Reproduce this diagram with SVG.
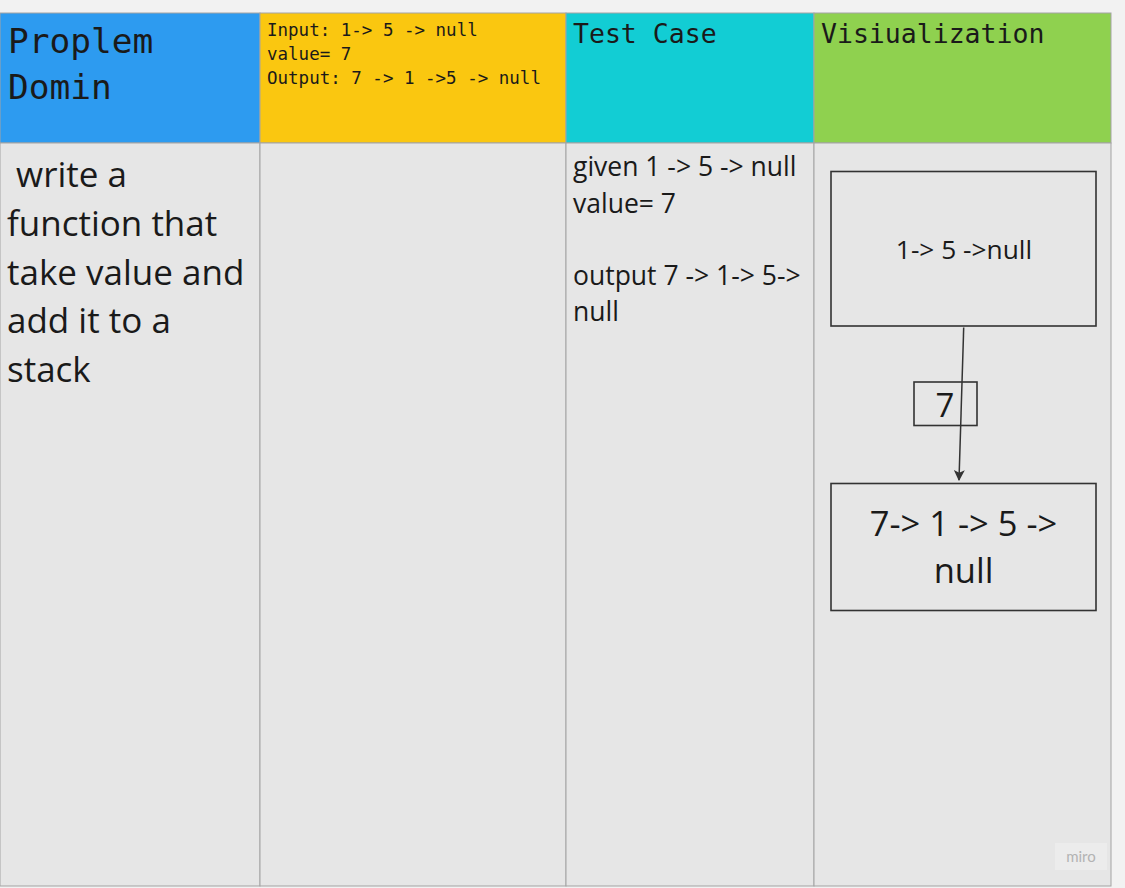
<svg xmlns="http://www.w3.org/2000/svg" width="1125" height="888" viewBox="0 0 1125 888">
  <defs>
    <style>
      .cell { stroke: #a3a3a3; stroke-width: 1; }
      .mono { font-family: "DejaVu Sans Mono", "Liberation Mono", monospace; fill: #1a1a1a; }
      .body { font-family: "Open Sans", "Noto Sans", sans-serif; fill: #1a1a1a; }
      .box { fill: none; stroke: #333333; stroke-width: 1.6; }
      .edge { fill: none; stroke: #333333; stroke-width: 1.5; }
    </style>
    <marker id="arrow" viewBox="0 0 10 10" refX="9" refY="5" markerWidth="11" markerHeight="11" orient="auto" markerUnits="userSpaceOnUse">
      <path d="M0,0 L10,5 L0,10 L2.5,5 Z" fill="#333333"/>
    </marker>
  </defs>

  <rect width="1125" height="888" fill="#f2f2f2"/>

  <!-- table: header row -->
  <g id="header">
    <rect class="cell" x="0" y="13" width="260" height="130" fill="#2d9bf0"/>
    <rect class="cell" x="260" y="13" width="306" height="130" fill="#fac710"/>
    <rect class="cell" x="566" y="13" width="248" height="130" fill="#12cdd4"/>
    <rect class="cell" x="814" y="13" width="297" height="130" fill="#8fd14f"/>
  </g>

  <!-- table: body row -->
  <g id="body">
    <rect class="cell" x="0" y="143" width="260" height="743" fill="#e6e6e6"/>
    <rect class="cell" x="260" y="143" width="306" height="743" fill="#e6e6e6"/>
    <rect class="cell" x="566" y="143" width="248" height="743" fill="#e6e6e6"/>
    <rect class="cell" x="814" y="143" width="297" height="743" fill="#e6e6e6"/>
  </g>

  <g id="problem-domain">
    <text class="mono" font-size="34.5" x="8" y="53">Proplem</text>
    <text class="mono" font-size="34.5" x="8" y="99">Domin</text>
  </g>

  <g id="algorithm">
    <text class="mono" font-size="17.5" x="267" y="36">Input: 1-&gt; 5 -&gt; null</text>
    <text class="mono" font-size="17.5" x="267" y="60">value= 7</text>
    <text class="mono" font-size="17.5" x="267" y="84">Output: 7 -&gt; 1 -&gt;5 -&gt; null</text>
  </g>

  <g id="test-case-title">
    <text class="mono" font-size="26.5" x="573" y="43">Test Case</text>
  </g>

  <g id="visualization-title">
    <text class="mono" font-size="26.5" x="821" y="43">Visiualization</text>
  </g>

  <g id="problem-text">
    <text class="body" font-size="35" x="7" y="187" xml:space="preserve"> write a</text>
    <text class="body" font-size="35" x="7" y="236">function that</text>
    <text class="body" font-size="35" x="7" y="285">take value and</text>
    <text class="body" font-size="35" x="7" y="333">add it to a</text>
    <text class="body" font-size="35" x="7" y="382">stack</text>
  </g>

  <g id="test-case-text">
    <text class="body" font-size="26.5" x="573" y="176">given 1 -&gt; 5 -&gt; null</text>
    <text class="body" font-size="26.5" x="573" y="213">value= 7</text>
    <text class="body" font-size="26.5" x="573" y="285">output 7 -&gt; 1-&gt; 5-&gt;</text>
    <text class="body" font-size="26.5" x="573" y="321">null</text>
  </g>

  <!-- linked list before insertion -->
  <g id="list-before">
    <rect class="box" x="831" y="171.5" width="265" height="154.5"/>
    <text class="body" font-size="26.3" x="964" y="259" text-anchor="middle">1-&gt; 5 -&gt;null</text>
  </g>

  <!-- value being pushed -->
  <g id="value-node">
    <rect class="box" x="914" y="382" width="63" height="43.5" stroke-width="1.3"/>
    <text class="body" font-size="33" x="945" y="417" text-anchor="middle">7</text>
  </g>

  <!-- linked list after insertion -->
  <g id="list-after">
    <rect class="box" x="831" y="483.5" width="265" height="127"/>
    <text class="body" font-size="34.5" x="963.5" y="536" text-anchor="middle">7-&gt; 1 -&gt; 5 -&gt;</text>
    <text class="body" font-size="34.5" x="963.5" y="583" text-anchor="middle">null</text>
  </g>

  <g id="connectors">
    <line class="edge" x1="963.7" y1="327.5" x2="959" y2="480" marker-end="url(#arrow)"/>
  </g>

  <g id="watermark">
    <rect x="1055" y="843" width="52" height="27" fill="#ececec"/>
    <text x="1081" y="862" font-family="Lato, 'Open Sans', sans-serif" font-size="15" fill="#b3b3b3" text-anchor="middle">miro</text>
  </g>
</svg>
